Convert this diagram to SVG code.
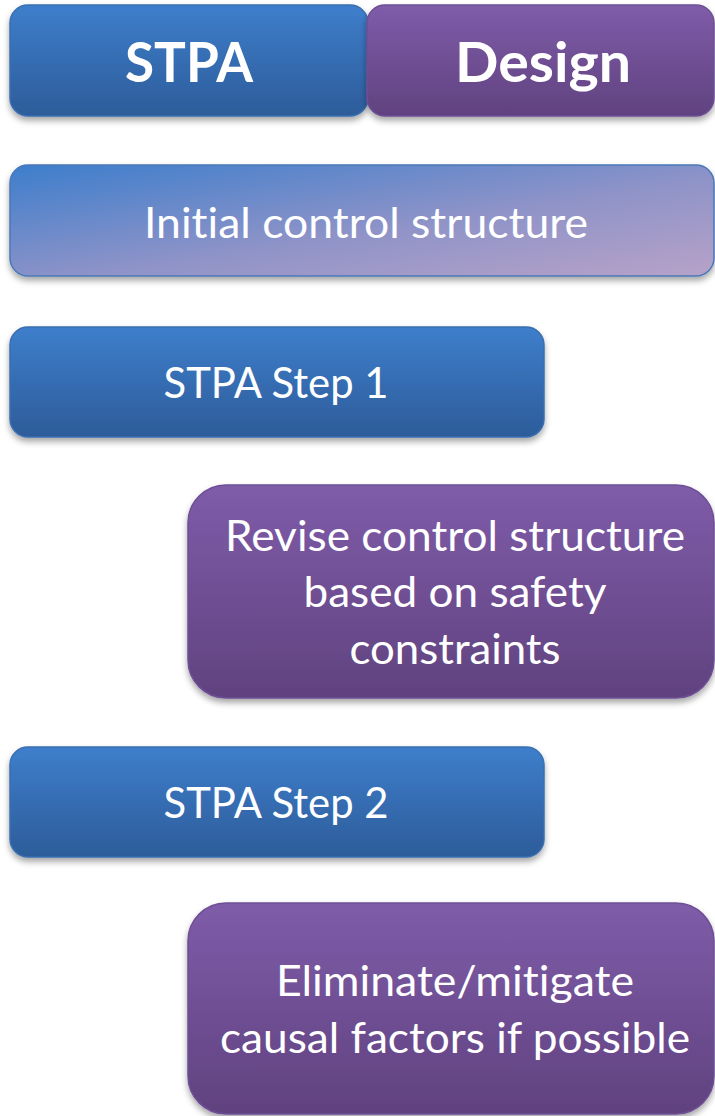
<svg xmlns="http://www.w3.org/2000/svg" width="715" height="1116" viewBox="0 0 715 1116">
  <defs>
    <linearGradient id="gBlue" x1="0" y1="0" x2="0" y2="1">
      <stop offset="0" stop-color="#3E7ECB"/>
      <stop offset="1" stop-color="#2D5C9A"/>
    </linearGradient>
    <linearGradient id="gPurple" x1="0" y1="0" x2="0" y2="1">
      <stop offset="0" stop-color="#7F5CA9"/>
      <stop offset="1" stop-color="#60427F"/>
    </linearGradient>
    <linearGradient id="gMix" x1="0" y1="0" x2="1" y2="1" gradientUnits="objectBoundingBox">
      <stop offset="0" stop-color="#3D7ECC"/>
      <stop offset="0.55" stop-color="#8E93C8"/>
      <stop offset="1" stop-color="#B7A2C8"/>
    </linearGradient>
    <filter id="shadow" x="-10%" y="-10%" width="120%" height="130%">
      <feDropShadow dx="0" dy="4" stdDeviation="3" flood-color="#000" flood-opacity="0.35"/>
    </filter>
  </defs>
  <style>
    .box { filter: url(#shadow); stroke-width: 1.5; }
    .blue { fill: url(#gBlue); stroke: #3A6FB0; }
    .purple { fill: url(#gPurple); stroke: #6E4F95; }
    .mix { fill: url(#gMix); stroke: #4A78B8; }
    text { font-family: "Lato", "Open Sans", sans-serif; fill: #FFFFFF; text-anchor: middle; font-variant-ligatures: none; }
    .head { font-size: 55px; font-weight: bold; }
    .lbl { font-size: 42px; }
  </style>

  <g id="stpa-header">
    <rect class="box blue" x="10" y="5" width="358" height="111" rx="18"/>
    <text class="head" x="189" y="82" textLength="128" lengthAdjust="spacingAndGlyphs">STPA</text>
  </g>

  <g id="design-header">
    <rect class="box purple" x="367" y="5" width="347" height="111" rx="18"/>
    <text class="head" x="543" y="82" textLength="176" lengthAdjust="spacingAndGlyphs">Design</text>
  </g>

  <g id="initial-control-structure">
    <rect class="box mix" x="10" y="165" width="704" height="111" rx="18"/>
    <text class="lbl" x="366" y="238" textLength="444" lengthAdjust="spacingAndGlyphs">Initial control structure</text>
  </g>

  <g id="stpa-step-1">
    <rect class="box blue" x="10" y="327" width="534" height="110" rx="18"/>
    <text class="lbl" x="276" y="398" textLength="225" lengthAdjust="spacingAndGlyphs">STPA Step 1</text>
  </g>

  <g id="revise-control-structure">
    <rect class="box purple" x="188" y="485" width="526" height="213" rx="38"/>
    <text class="lbl" x="455" y="551" textLength="460" lengthAdjust="spacingAndGlyphs">Revise control structure</text>
    <text class="lbl" x="455" y="607" textLength="303" lengthAdjust="spacingAndGlyphs">based on safety</text>
    <text class="lbl" x="455" y="664" textLength="211" lengthAdjust="spacingAndGlyphs">constraints</text>
  </g>

  <g id="stpa-step-2">
    <rect class="box blue" x="10" y="747" width="534" height="110" rx="18"/>
    <text class="lbl" x="276" y="818" textLength="225" lengthAdjust="spacingAndGlyphs">STPA Step 2</text>
  </g>

  <g id="eliminate-causal-factors">
    <rect class="box purple" x="188" y="903" width="526" height="211" rx="38"/>
    <text class="lbl" x="455" y="996" textLength="358" lengthAdjust="spacingAndGlyphs">Eliminate/mitigate</text>
    <text class="lbl" x="455" y="1053" textLength="470" lengthAdjust="spacingAndGlyphs">causal factors if possible</text>
  </g>

  <g id="connectors"/>
</svg>
